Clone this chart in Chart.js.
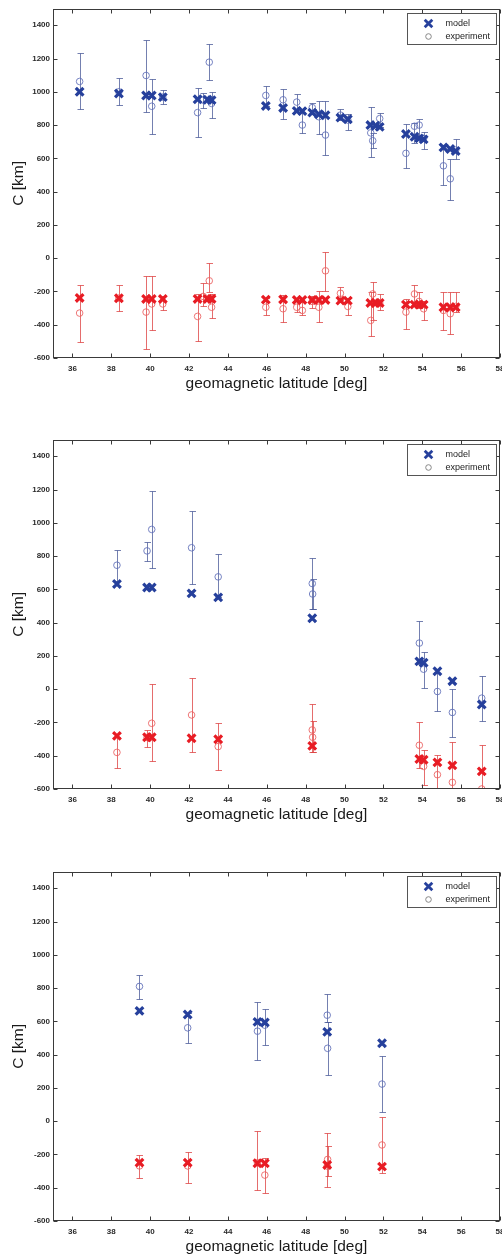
<!DOCTYPE html>
<html><head><meta charset="utf-8">
<script src="https://cdn.jsdelivr.net/npm/chart.js@4.4.0/dist/chart.umd.min.js"></script>
<style>
html,body{margin:0;padding:0;background:#fff;overflow:hidden;width:502px;height:1257px;}
.panel{position:absolute;left:0;}
canvas{display:block;}
</style></head><body>
<div class="panel" style="top:0px"><canvas id="c1" width="530" height="400"></canvas></div>
<div class="panel" style="top:431px"><canvas id="c2" width="530" height="400"></canvas></div>
<div class="panel" style="top:863px"><canvas id="c3" width="530" height="400"></canvas></div>
<script>
// ---- tick labels ----
const xTicks = [36, 38, 40, 42, 44, 46, 48, 50, 52, 54, 56, 58];
const yTicks = [-600, -400, -200, 0, 200, 400, 600, 800, 1000, 1200, 1400];
const xTitle = 'geomagnetic latitude [deg]';
const yTitle = 'C [km]';
const legendLabels = ['model', 'experiment'];

// ---- panel 1 ----
const p1Lat = [36.37, 38.39, 39.79, 40.08, 40.65, 42.44, 42.95, 43.16, 45.95, 46.84, 47.54, 47.83, 48.34, 48.68, 49.02, 49.79, 50.17, 51.33, 51.59, 51.81, 53.16, 53.6, 53.84, 54.07, 55.09, 55.44, 55.72];
const p1ModelBlue = [1000, 990, 978, 978, 968, 955, 952, 950, 915, 903, 885, 884, 875, 865, 859, 845, 835, 800, 796, 789, 746, 730, 720, 714, 666, 656, 644];
const p1ModelRed = [-239, -241, -245, -245, -245, -245, -245, -245, -249, -248, -251, -251, -251, -251, -251, -255, -255, -269, -269, -269, -279, -279, -279, -279, -295, -295, -295];
const p1ExpLat = [36.37, 38.39, 39.79, 40.08, 40.65, 42.44, 42.73, 43.04, 43.16, 45.95, 46.84, 47.54, 47.83, 48.34, 48.68, 49.02, 49.79, 50.17, 51.35, 51.45, 51.81, 53.16, 53.6, 53.84, 54.07, 55.09, 55.44, 55.72];
const p1ExpBlue = [1062, 1000, 1098, 913, 968, 875, 950, 1178, 930, 978, 952, 938, 800, 905, 850, 740, 860, 830, 753, 706, 839, 630, 793, 800, 720, 555, 477, 650];
const p1ExpBlueLo = [895, 919, 879, 746, 928, 730, 905, 1068, 843, 915, 835, 890, 755, 870, 749, 620, 830, 770, 610, 660, 790, 541, 690, 740, 656, 442, 352, 595];
const p1ExpBlueHi = [1231, 1081, 1310, 1076, 1008, 1024, 995, 1286, 998, 1032, 1014, 988, 880, 932, 944, 943, 899, 865, 909, 750, 870, 809, 815, 839, 760, 680, 594, 716];
const p1ExpRed = [-330, -240, -324, -275, -275, -350, -230, -136, -295, -295, -304, -295, -314, -260, -295, -76, -211, -290, -374, -215, -270, -324, -215, -260, -304, -314, -334, -290];
const p1ExpRedLo = [-504, -320, -543, -434, -314, -497, -290, -205, -358, -344, -384, -325, -344, -300, -384, -199, -254, -344, -470, -370, -314, -424, -280, -300, -374, -430, -454, -325];
const p1ExpRedHi = [-159, -159, -106, -106, -225, -215, -152, -30, -215, -240, -219, -250, -260, -225, -195, 38, -175, -240, -205, -146, -215, -245, -159, -205, -260, -205, -205, -205];

// ---- panel 2 ----
const p2Lat = [38.29, 39.84, 40.08, 42.13, 43.5, 48.34, 53.85, 54.07, 54.78, 55.55, 57.06];
const p2ModelBlue = [632, 611, 611, 576, 552, 426, 167, 159, 108, 48, -92];
const p2ModelRed = [-281, -289, -289, -295, -301, -341, -420, -424, -440, -458, -494];
const p2ExpLat = [38.29, 39.84, 40.08, 42.13, 43.5, 48.34, 48.36, 53.85, 54.07, 54.78, 55.55, 57.06];
const p2ExpBlue = [745, 831, 960, 850, 675, 635, 572, 277, 120, -14, -140, -54];
const p2ExpBlueLo = [650, 771, 727, 632, 552, 482, 480, 150, 8, -131, -287, -191];
const p2ExpBlueHi = [837, 886, 1193, 1070, 811, 787, 665, 412, 223, 100, 4, 78];
const p2ExpRed = [-380, -290, -205, -155, -345, -245, -289, -337, -464, -514, -560, -600];
const p2ExpRedLo = [-474, -345, -434, -375, -484, -380, -380, -474, -574, -680, -680, -680];
const p2ExpRedHi = [-285, -245, 30, 68, -205, -90, -191, -199, -364, -398, -315, -337];

// ---- panel 3 ----
const p3Lat = [39.45, 41.93, 45.52, 45.9, 49.11, 51.93];
const p3ModelBlue = [663, 641, 597, 593, 537, 468];
const p3ModelRed = [-249, -249, -253, -253, -263, -273];
const p3ExpLat = [39.45, 41.93, 45.52, 45.9, 49.11, 49.13, 51.93];
const p3ExpBlue = [810, 561, 541, 577, 637, 438, 223];
const p3ExpBlueLo = [736, 468, 368, 458, 597, 279, 54];
const p3ExpBlueHi = [876, 650, 716, 673, 762, 597, 392];
const p3ExpRed = [-269, -269, -250, -324, -270, -230, -143];
const p3ExpRedLo = [-342, -374, -412, -432, -398, -330, -309];
const p3ExpRedHi = [-203, -183, -60, -219, -74, -149, 24];

// ---- styles ----
const FONT = '"Liberation Sans", Arial, Helvetica, sans-serif';
const BLUE = 'rgb(38,64,156)';
const RED = 'rgb(232,28,36)';
const BLUE_EXP = 'rgba(95,110,185,0.85)';
const RED_EXP = 'rgba(235,95,95,0.85)';
const BLUE_ERR = 'rgba(70,85,150,0.75)';
const RED_ERR = 'rgba(220,60,60,0.75)';

const pts = (xs, ys) => xs.map((v, i) => ({x: v, y: ys[i]}));

const errPlugin = {
  id: 'errbars',
  beforeDatasetsDraw(chart) {
    const {ctx, chartArea, scales} = chart;
    const xs = scales.x, ys = scales.y;
    ctx.save();
    ctx.beginPath();
    ctx.rect(chartArea.left, chartArea.top, chartArea.width, chartArea.height);
    ctx.clip();
    chart.data.datasets.forEach(ds => {
      if (!ds.errLo) return;
      ctx.strokeStyle = ds.errColor;
      ctx.lineWidth = 1;
      ds.data.forEach((p, i) => {
        const px = Math.round(xs.getPixelForValue(p.x)) + 0.5;
        const yl = Math.round(ys.getPixelForValue(ds.errLo[i])) + 0.5;
        const yh = Math.round(ys.getPixelForValue(ds.errHi[i])) + 0.5;
        ctx.beginPath();
        ctx.moveTo(px, yl); ctx.lineTo(px, yh);
        ctx.moveTo(px - 3, yl); ctx.lineTo(px + 3.5, yl);
        ctx.moveTo(px - 3, yh); ctx.lineTo(px + 3.5, yh);
        ctx.stroke();
      });
    });
    ctx.restore();
  }
};

const framePlugin = {
  id: 'frame',
  afterDraw(chart) {
    const {ctx, chartArea: a, scales} = chart;
    const xs = scales.x, ys = scales.y;
    ctx.save();
    ctx.strokeStyle = '#3a3a3a';
    ctx.lineWidth = 1;
    const L = Math.round(a.left) + 0.5, R = Math.round(a.right) - 0.5;
    const T = Math.round(a.top) + 0.5, B = Math.round(a.bottom) - 0.5;
    ctx.strokeRect(L, T, R - L, B - T);
    ctx.beginPath();
    xs.ticks.forEach(t => {
      const px = Math.round(xs.getPixelForValue(t.value)) + 0.5;
      ctx.moveTo(px, B); ctx.lineTo(px, B - 4);
      ctx.moveTo(px, T); ctx.lineTo(px, T + 4);
    });
    ys.ticks.forEach(t => {
      const py = Math.round(ys.getPixelForValue(t.value)) + 0.5;
      ctx.moveTo(L, py); ctx.lineTo(L + 4, py);
      ctx.moveTo(R, py); ctx.lineTo(R - 4, py);
    });
    ctx.stroke();

    // legend box
    const bx = Math.round(a.right) - 93 + 0.5, by = Math.round(a.top) + 4 + 0.5;
    ctx.fillStyle = '#fff';
    ctx.fillRect(bx, by, 89, 31);
    ctx.strokeStyle = '#555';
    ctx.strokeRect(bx, by, 89, 31);
    const mx = bx + 21, my1 = by + 10, my2 = by + 23;
    ctx.strokeStyle = BLUE;
    ctx.lineWidth = 2.8;
    ctx.beginPath();
    ctx.moveTo(mx - 3.8, my1 - 3.8); ctx.lineTo(mx + 3.8, my1 + 3.8);
    ctx.moveTo(mx + 3.8, my1 - 3.8); ctx.lineTo(mx - 3.8, my1 + 3.8);
    ctx.stroke();
    ctx.strokeStyle = '#888';
    ctx.lineWidth = 1;
    ctx.beginPath();
    ctx.arc(mx, my2, 2.8, 0, Math.PI * 2);
    ctx.stroke();
    ctx.fillStyle = '#222';
    ctx.font = '9px ' + FONT;
    ctx.textBaseline = 'middle';
    ctx.textAlign = 'left';
    ctx.fillText(legendLabels[0], bx + 38, my1);
    ctx.fillText(legendLabels[1], bx + 38, my2);
    ctx.restore();
  }
};

function makeChart(id, lat, mB, mR, eLat, eB, eBLo, eBHi, eR, eRLo, eRHi) {
  return new Chart(document.getElementById(id), {
    type: 'scatter',
    data: {
      datasets: [
        {label: 'model', data: pts(lat, mB), pointStyle: 'crossRot', radius: 5.4, borderWidth: 3.2, borderColor: BLUE, backgroundColor: BLUE},
        {label: 'model', data: pts(lat, mR), pointStyle: 'crossRot', radius: 5.4, borderWidth: 3.2, borderColor: RED, backgroundColor: RED},
        {label: 'experiment', data: pts(eLat, eB), pointStyle: 'circle', radius: 3.3, borderWidth: 1, borderColor: BLUE_EXP, backgroundColor: 'rgba(0,0,0,0)', errLo: eBLo, errHi: eBHi, errColor: BLUE_ERR},
        {label: 'experiment', data: pts(eLat, eR), pointStyle: 'circle', radius: 3.3, borderWidth: 1, borderColor: RED_EXP, backgroundColor: 'rgba(0,0,0,0)', errLo: eRLo, errHi: eRHi, errColor: RED_ERR}
      ]
    },
    options: {
      responsive: false,
      animation: false,
      devicePixelRatio: 1,
      layout: {padding: {left: 0, top: 7, right: 30, bottom: 0}},
      plugins: {legend: {display: false}, tooltip: {enabled: false}},
      scales: {
        x: {
          type: 'linear', min: 35, max: 58,
          afterBuildTicks: s => { s.ticks = xTicks.map(v => ({value: v})); },
          afterFit: s => { s.height = 42; s.paddingLeft = 0; s.paddingRight = 0; },
          grid: {display: false, drawTicks: false},
          border: {display: false},
          ticks: {padding: 6, autoSkip: false, maxRotation: 0, color: '#2a2a2a', font: {size: 8, weight: 'bold', family: FONT}, callback: v => String(v)},
          title: {display: true, text: xTitle, color: '#1a1a1a', font: {size: 15.5, family: FONT}, padding: {top: 0, bottom: 7}}
        },
        y: {
          type: 'linear', min: -600, max: 1500,
          afterBuildTicks: s => { s.ticks = yTicks.map(v => ({value: v})); },
          afterFit: s => { s.width = 53; s.paddingTop = 0; s.paddingBottom = 0; },
          grid: {display: false, drawTicks: false},
          border: {display: false},
          ticks: {padding: 3, autoSkip: false, color: '#2a2a2a', font: {size: 8, weight: 'bold', family: FONT}, callback: v => String(v)},
          title: {display: true, text: yTitle, color: '#1a1a1a', font: {size: 15.5, family: FONT}, padding: {top: 9, bottom: 0}}
        }
      }
    },
    plugins: [errPlugin, framePlugin]
  });
}

makeChart('c1', p1Lat, p1ModelBlue, p1ModelRed, p1ExpLat, p1ExpBlue, p1ExpBlueLo, p1ExpBlueHi, p1ExpRed, p1ExpRedLo, p1ExpRedHi);
makeChart('c2', p2Lat, p2ModelBlue, p2ModelRed, p2ExpLat, p2ExpBlue, p2ExpBlueLo, p2ExpBlueHi, p2ExpRed, p2ExpRedLo, p2ExpRedHi);
makeChart('c3', p3Lat, p3ModelBlue, p3ModelRed, p3ExpLat, p3ExpBlue, p3ExpBlueLo, p3ExpBlueHi, p3ExpRed, p3ExpRedLo, p3ExpRedHi);
</script>
</body></html>
